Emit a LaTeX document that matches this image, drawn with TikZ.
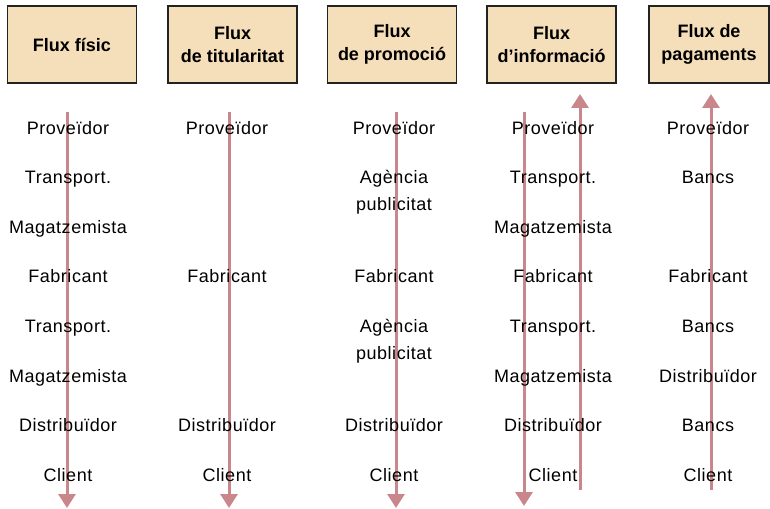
\documentclass[tikz,border=0pt]{standalone}
\usepackage{fontspec}
\setmainfont{Liberation Sans}
\usetikzlibrary{arrows.meta}

\definecolor{flowarrow}{RGB}{201,135,139}
\definecolor{headfill}{RGB}{245,223,186}
\definecolor{headline}{RGB}{34,34,34}

\tikzset{
  head/.style={draw=headline, line width=1.5pt, fill=headfill,
    minimum width=129pt, minimum height=77pt, inner sep=0pt, align=center,
    font=\fontsize{18}{23}\selectfont\bfseries},
  actor/.style={anchor=base, inner sep=0pt, align=center,
    font=\fontsize{18}{27}\selectfont\addfontfeature{LetterSpace=3}},
  flow/.style={draw=flowarrow, line width=3pt,
    -{Triangle[length=14pt,width=17pt]}},
}

\begin{document}
\begin{tikzpicture}[x=1pt,y=-1pt]
\useasboundingbox (0,0) rectangle (770,508);

% column headings
\node[head] (h1) at (72,44.5) {Flux físic};
\node[head] (h2) at (232.5,44.5) {Flux\\de titularitat};
\node[head] (h3) at (392,44.5) {Flux\\de promoció};
\node[head] (h4) at (551.5,44.5) {Flux\\d’informació};
\node[head, minimum width=120pt] (h5) at (709,44.5) {Flux de\\pagaments};

% flow arrows
\coordinate (f1s) at (67,112);   \coordinate (f1e) at (67,508);
\coordinate (f2s) at (229,112);  \coordinate (f2e) at (229,508);
\coordinate (f3s) at (396,112);  \coordinate (f3e) at (396,508);
\coordinate (f4s) at (524,112);  \coordinate (f4e) at (524,506);
\coordinate (i4s) at (580,490);  \coordinate (i4e) at (580,94);
\coordinate (p5s) at (711,490);  \coordinate (p5e) at (711,94);
\draw[flow] (f1s) -- (f1e);
\draw[flow] (f2s) -- (f2e);
\draw[flow] (f3s) -- (f3e);
\draw[flow] (f4s) -- (f4e);
\draw[flow] (i4s) -- (i4e);
\draw[flow] (p5s) -- (p5e);

% physical flow
\node[actor] (a1) at (68,134) {Proveïdor};
\node[actor] (a2) at (68,183) {Transport.};
\node[actor] (a3) at (68,233) {Magatzemista};
\node[actor] (a4) at (68,282) {Fabricant};
\node[actor] (a5) at (68,332) {Transport.};
\node[actor] (a6) at (68,382) {Magatzemista};
\node[actor] (a7) at (68,431) {Distribuïdor};
\node[actor] (a8) at (68,481) {Client};

% ownership flow
\node[actor] (b1) at (227,134) {Proveïdor};
\node[actor] (b2) at (227,282) {Fabricant};
\node[actor] (b3) at (227,431) {Distribuïdor};
\node[actor] (b4) at (227,481) {Client};

% promotion flow (two-line labels sit on the baseline of their last line)
\node[actor] (c1) at (394,134) {Proveïdor};
\node[actor] (c2) at (394,210) {Agència\\publicitat};
\node[actor] (c3) at (394,282) {Fabricant};
\node[actor] (c4) at (394,359) {Agència\\publicitat};
\node[actor] (c5) at (394,431) {Distribuïdor};
\node[actor] (c6) at (394,481) {Client};

% information flow
\node[actor] (d1) at (553,134) {Proveïdor};
\node[actor] (d2) at (553,183) {Transport.};
\node[actor] (d3) at (553,233) {Magatzemista};
\node[actor] (d4) at (553,282) {Fabricant};
\node[actor] (d5) at (553,332) {Transport.};
\node[actor] (d6) at (553,382) {Magatzemista};
\node[actor] (d7) at (553,431) {Distribuïdor};
\node[actor] (d8) at (553,481) {Client};

% payment flow
\node[actor] (e1) at (708,134) {Proveïdor};
\node[actor] (e2) at (708,183) {Bancs};
\node[actor] (e3) at (708,282) {Fabricant};
\node[actor] (e4) at (708,332) {Bancs};
\node[actor] (e5) at (708,382) {Distribuïdor};
\node[actor] (e6) at (708,431) {Bancs};
\node[actor] (e7) at (708,481) {Client};
\end{tikzpicture}
\end{document}
